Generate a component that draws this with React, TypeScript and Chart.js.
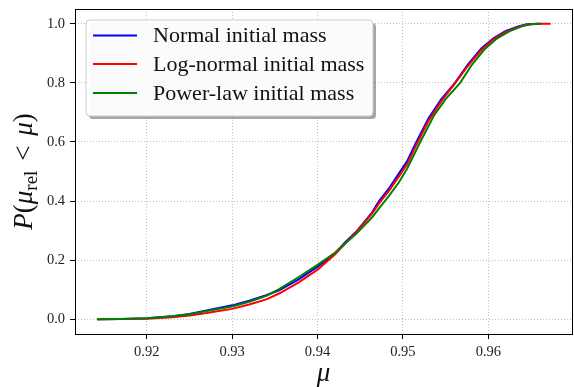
import React, { useEffect, useRef } from "react";
import { Chart, registerables } from "chart.js";

Chart.register(...registerables);

// ---- data ----
const normalX = [0.9142, 0.917, 0.92, 0.923, 0.925, 0.927, 0.93, 0.932, 0.934, 0.9355, 0.9378, 0.94, 0.942, 0.9433, 0.9445, 0.9464, 0.9472, 0.9483, 0.9495, 0.9505, 0.9514, 0.953, 0.9545, 0.9561, 0.9576, 0.9592, 0.9606, 0.962, 0.9635, 0.9645, 0.966];
const normalY = [0, 0.001, 0.003, 0.010, 0.018, 0.030, 0.047, 0.063, 0.081, 0.098, 0.135, 0.178, 0.222, 0.262, 0.295, 0.362, 0.400, 0.440, 0.492, 0.535, 0.590, 0.680, 0.745, 0.800, 0.862, 0.917, 0.951, 0.975, 0.991, 0.998, 1.0];

const lognormalX = [0.9142, 0.917, 0.92, 0.923, 0.925, 0.927, 0.93, 0.932, 0.934, 0.9355, 0.9378, 0.94, 0.942, 0.9433, 0.9445, 0.9464, 0.9472, 0.9483, 0.9495, 0.9505, 0.9514, 0.953, 0.9545, 0.9561, 0.9576, 0.9592, 0.9606, 0.962, 0.9635, 0.9645, 0.9655, 0.9673];
const lognormalY = [0, 0.0005, 0.002, 0.007, 0.013, 0.021, 0.035, 0.050, 0.067, 0.087, 0.125, 0.168, 0.218, 0.258, 0.293, 0.358, 0.392, 0.432, 0.482, 0.525, 0.580, 0.672, 0.738, 0.798, 0.857, 0.912, 0.947, 0.972, 0.989, 0.997, 1.0, 1.0];

const powerlawX = [0.9142, 0.917, 0.92, 0.923, 0.925, 0.927, 0.93, 0.932, 0.934, 0.9355, 0.9378, 0.94, 0.942, 0.9433, 0.9445, 0.9464, 0.9472, 0.9483, 0.9495, 0.9505, 0.952, 0.9536, 0.955, 0.9567, 0.958, 0.9595, 0.961, 0.9625, 0.964, 0.965, 0.9662];
const powerlawY = [0, 0.001, 0.003, 0.010, 0.017, 0.028, 0.043, 0.059, 0.079, 0.102, 0.143, 0.184, 0.224, 0.258, 0.288, 0.345, 0.375, 0.415, 0.462, 0.510, 0.598, 0.688, 0.745, 0.800, 0.858, 0.912, 0.950, 0.975, 0.992, 0.998, 1.0];

const SERIES_LABELS = ["Normal initial mass", "Log-normal initial mass", "Power-law initial mass"];
const SERIES_COLORS = ["#0000ff", "#ff0000", "#008000"];

const X_TICKS = [0.92, 0.93, 0.94, 0.95, 0.96];
const Y_TICKS = [0.0, 0.2, 0.4, 0.6, 0.8, 1.0];
const X_MIN = 0.9116;
const X_MAX = 0.9698;
const Y_MIN = -0.05;
const Y_MAX = 1.05;

const SERIF = "'Liberation Serif', 'Times New Roman', serif";

function pts(xs: number[], ys: number[]) {
  return xs.map((x, i) => ({ x, y: ys[i] }));
}

const decorPlugin = {
  id: "decor",
  afterDatasetsDraw(chart: any) {
    const { ctx, chartArea: a } = chart;
    ctx.save();
    // frame
    ctx.strokeStyle = "#000";
    ctx.lineWidth = 1;
    ctx.setLineDash([]);
    ctx.strokeRect(Math.round(a.left) + 0.5, Math.round(a.top) + 0.5, Math.round(a.right - a.left), Math.round(a.bottom - a.top));

    // legend
    const bx = 86, by = 20, bw = 287, bh = 96, r = 4;
    const rr = (x: number, y: number, w: number, h: number) => {
      ctx.beginPath();
      ctx.moveTo(x + r, y);
      ctx.lineTo(x + w - r, y);
      ctx.quadraticCurveTo(x + w, y, x + w, y + r);
      ctx.lineTo(x + w, y + h - r);
      ctx.quadraticCurveTo(x + w, y + h, x + w - r, y + h);
      ctx.lineTo(x + r, y + h);
      ctx.quadraticCurveTo(x, y + h, x, y + h - r);
      ctx.lineTo(x, y + r);
      ctx.quadraticCurveTo(x, y, x + r, y);
      ctx.closePath();
    };
    rr(bx + 3, by + 3, bw, bh);
    ctx.fillStyle = "rgba(0,0,0,0.35)";
    ctx.fill();
    rr(bx, by, bw, bh);
    ctx.fillStyle = "rgba(255,255,255,0.95)";
    ctx.fill();
    ctx.strokeStyle = "#cccccc";
    ctx.lineWidth = 1;
    ctx.stroke();

    const rows = [35.5, 64, 93];
    ctx.font = `22px ${SERIF}`;
    ctx.textBaseline = "middle";
    ctx.textAlign = "left";
    SERIES_LABELS.forEach((lab, i) => {
      ctx.strokeStyle = SERIES_COLORS[i];
      ctx.lineWidth = 2;
      ctx.beginPath();
      ctx.moveTo(93, rows[i]);
      ctx.lineTo(137, rows[i]);
      ctx.stroke();
      ctx.fillStyle = "#111";
      ctx.fillText(lab, 153, rows[i] + 1);
    });
    ctx.restore();
  },
  afterDraw(chart: any) {
    const { ctx, chartArea: a } = chart;
    ctx.save();
    ctx.fillStyle = "#111";
    // x title
    ctx.font = `italic 27px ${SERIF}`;
    ctx.textAlign = "center";
    ctx.textBaseline = "alphabetic";
    ctx.fillText("μ", (a.left + a.right) / 2, 381);

    // y title with subscript
    const big = 27;
    const segs = [
      { t: "P", f: `italic ${big}px ${SERIF}`, dy: 0 },
      { t: "(", f: `${big}px ${SERIF}`, dy: 0 },
      { t: "μ", f: `italic ${big}px ${SERIF}`, dy: 0 },
      { t: "rel", f: `19px ${SERIF}`, dy: 5 },
      { t: " < ", f: `${big}px ${SERIF}`, dy: 0, pad: 3 },
      { t: "μ", f: `italic ${big}px ${SERIF}`, dy: 0 },
      { t: ")", f: `${big}px ${SERIF}`, dy: 0 },
    ];
    let total = 0;
    const widths = segs.map((s: any) => {
      ctx.font = s.f;
      const w = ctx.measureText(s.t).width + (s.pad ? 2 * s.pad : 0);
      total += w;
      return w;
    });
    ctx.translate(32, (a.top + a.bottom) / 2);
    ctx.rotate(-Math.PI / 2);
    ctx.textAlign = "left";
    let x = -total / 2;
    segs.forEach((s: any, i) => {
      ctx.font = s.f;
      ctx.fillText(s.t, x + (s.pad || 0), s.dy);
      x += widths[i];
    });
    ctx.restore();
  },
};

export default function App() {
  const ref = useRef<HTMLCanvasElement | null>(null);

  useEffect(() => {
    document.body.style.margin = "0";
    const canvas = ref.current;
    if (!canvas) return;
    const tickFont = { family: SERIF, size: 14.5 };
    const chart = new Chart(canvas, {
      type: "line",
      data: {
        datasets: [
          { label: SERIES_LABELS[0], data: pts(normalX, normalY), borderColor: SERIES_COLORS[0], borderWidth: 2, pointRadius: 0, fill: false, tension: 0, order: 3 },
          { label: SERIES_LABELS[1], data: pts(lognormalX, lognormalY), borderColor: SERIES_COLORS[1], borderWidth: 2, pointRadius: 0, fill: false, tension: 0, order: 2 },
          { label: SERIES_LABELS[2], data: pts(powerlawX, powerlawY), borderColor: SERIES_COLORS[2], borderWidth: 2, pointRadius: 0, fill: false, tension: 0, order: 1 },
        ],
      },
      options: {
        animation: false,
        responsive: false,
        maintainAspectRatio: false,
        layout: { padding: { top: 9, right: 2, left: 0, bottom: 0 } },
        plugins: { legend: { display: false }, tooltip: { enabled: false } },
        scales: {
          x: {
            type: "linear",
            min: X_MIN,
            max: X_MAX,
            afterBuildTicks: (s: any) => {
              s.ticks = X_TICKS.map((v) => ({ value: v }));
            },
            afterFit: (s: any) => {
              s.height = 53;
              s.paddingLeft = 0;
              s.paddingRight = 0;
            },
            grid: { color: "#b0b0b0", lineWidth: 0.8, tickColor: "#000", tickLength: 5, tickWidth: 1, tickBorderDash: [] },
            border: { display: false, dash: [1, 2] },
            ticks: { font: tickFont, color: "#222", padding: 4, maxRotation: 0, autoSkip: false, callback: (v: any) => Number(v).toFixed(2) },
          },
          y: {
            type: "linear",
            min: Y_MIN,
            max: Y_MAX,
            afterBuildTicks: (s: any) => {
              s.ticks = Y_TICKS.map((v) => ({ value: v }));
            },
            afterFit: (s: any) => {
              s.width = 75;
              s.paddingTop = 0;
              s.paddingBottom = 0;
            },
            grid: { color: "#b0b0b0", lineWidth: 0.8, tickColor: "#000", tickLength: 5, tickWidth: 1, tickBorderDash: [] },
            border: { display: false, dash: [1, 2] },
            ticks: { font: tickFont, color: "#222", padding: 5, autoSkip: false, callback: (v: any) => Number(v).toFixed(1) },
          },
        },
      },
      plugins: [decorPlugin],
    } as any);
    return () => chart.destroy();
  }, []);

  return (
    <div style={{ position: "fixed", left: 0, top: 0, width: 574, height: 387 }}>
      <canvas ref={ref} width={574} height={387} style={{ width: 574, height: 387, display: "block" }} />
    </div>
  );
}
